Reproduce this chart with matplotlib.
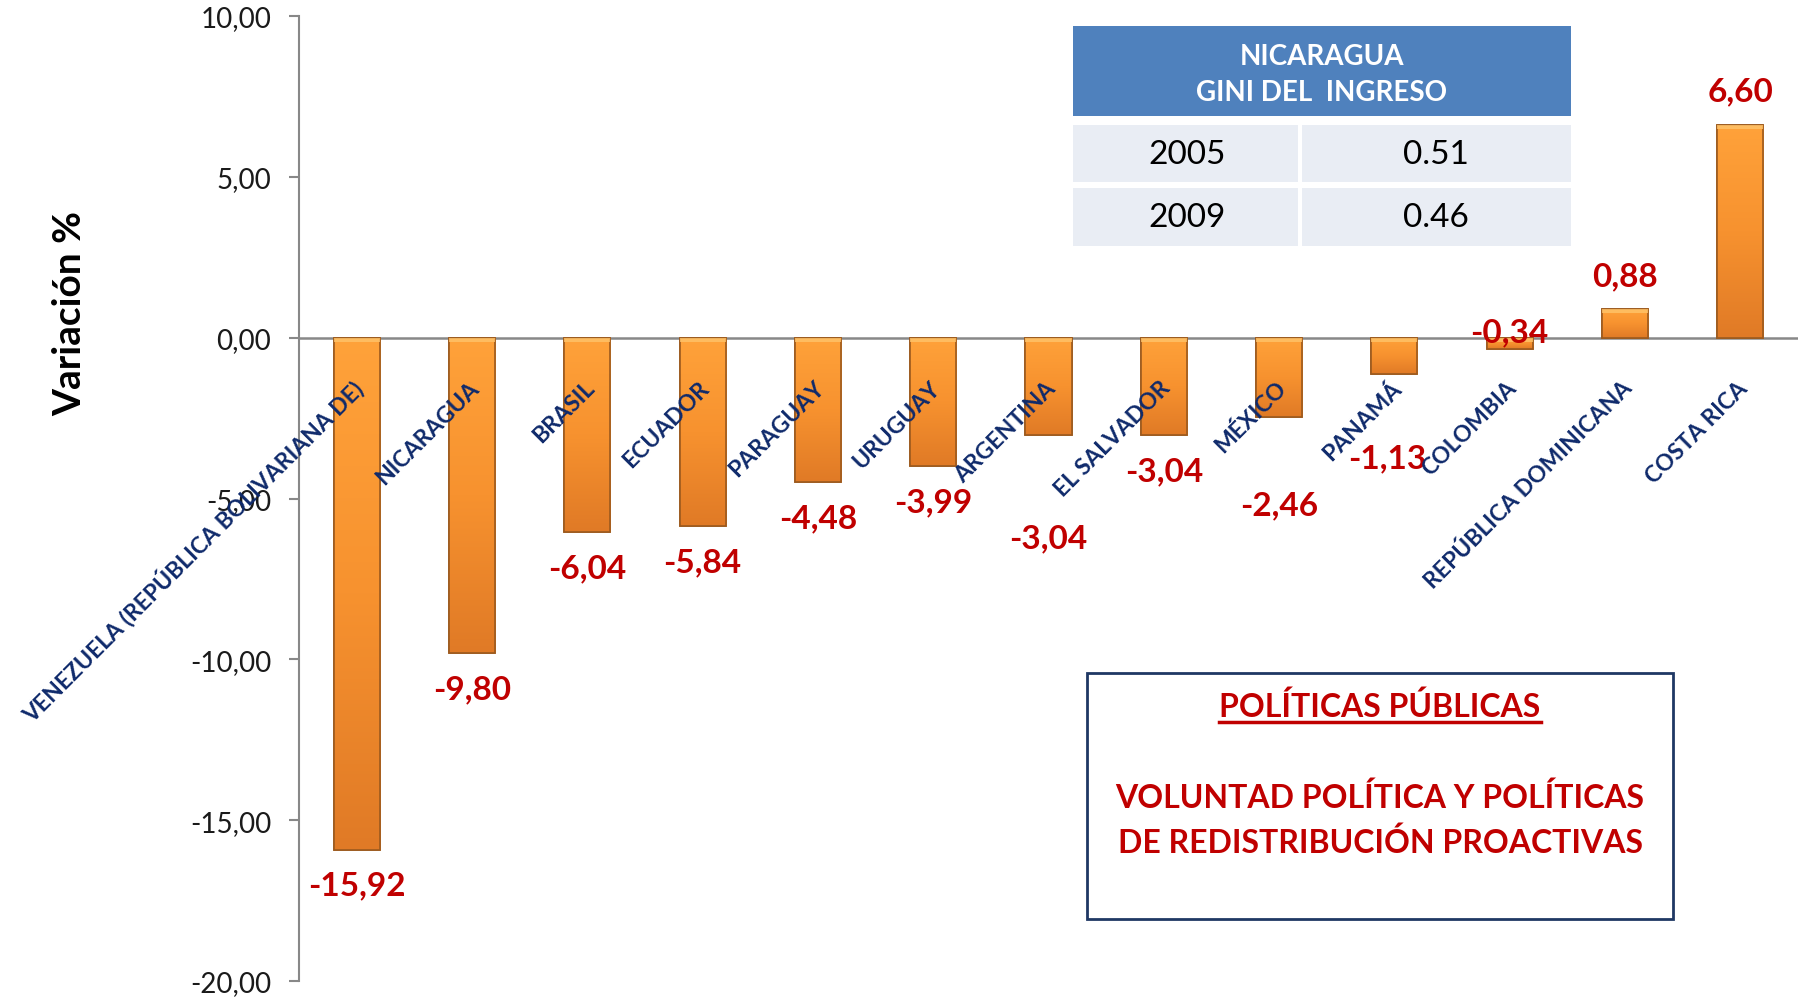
import matplotlib
matplotlib.use("Agg")
import matplotlib.pyplot as plt
import numpy as np
from matplotlib.patches import Rectangle
from matplotlib.colors import LinearSegmentedColormap

plt.rcParams['font.family'] = ['Lato', 'DejaVu Sans']

categories = ["VENEZUELA (REPÚBLICA BOLIVARIANA DE)", "NICARAGUA", "BRASIL", "ECUADOR",
              "PARAGUAY", "URUGUAY", "ARGENTINA", "EL SALVADOR", "MÉXICO", "PANAMÁ",
              "COLOMBIA", "REPÚBLICA DOMINICANA", "COSTA RICA"]
values = [-15.92, -9.80, -6.04, -5.84, -4.48, -3.99, -3.04, -3.04, -2.46, -1.13, -0.34, 0.88, 6.60]
value_labels = ["-15,92", "-9,80", "-6,04", "-5,84", "-4,48", "-3,99", "-3,04", "-3,04",
                "-2,46", "-1,13", "-0,34", "0,88", "6,60"]
# label offsets (layout) from the bar end, in data units
label_dy = [-1.10, -1.12, -1.13, -1.12, -1.12, -1.11, -3.17, -1.10, -2.75, -2.62, 0.52, 1.05, 1.07]
label_dx = [0, 0, 0, 0, 0, 0, 0, 0, 0, -0.06, 0, 0, 0]

yticks = [-20, -15, -10, -5, 0, 5, 10]
ytick_labels = ["-20,00", "-15,00", "-10,00", "-5,00", "0,00", "5,00", "10,00"]

table_title = "NICARAGUA\nGINI DEL  INGRESO"
table_years = ["2005", "2009"]
table_gini = ["0.51", "0.46"]

W, H = 1798, 1003
fig = plt.figure(figsize=(W / 100, H / 100), dpi=100)
ax = fig.add_axes([299 / W, 1 - 982 / H, 1 - 299 / W, (982 - 17) / H])

x = np.arange(len(categories))
bars = ax.bar(x, values, width=0.4, color='#F7922F', edgecolor='#9C5A1E', linewidth=1.2, zorder=3)

# vertical gradient inside bars
grad = np.linspace(0, 1, 256).reshape(-1, 1)
cmap = LinearSegmentedColormap.from_list('og', ['#FFA23A', '#F7922F', '#E07A26'])
for b in bars:
    x0, y0 = b.get_x(), b.get_y()
    w, h = b.get_width(), b.get_height()
    ylo, yhi = min(y0, y0 + h), max(y0, y0 + h)
    im = ax.imshow(grad, extent=[x0, x0 + w, ylo, yhi], origin='upper',
                   aspect='auto', cmap=cmap, zorder=3.5)
    im.set_clip_path(b)
    ax.add_patch(Rectangle((x0, ylo), w, yhi - ylo, fill=False, edgecolor='#9C5A1E',
                           linewidth=1.2, zorder=4))
    ax.add_patch(Rectangle((x0, yhi - 0.12), w, 0.12, facecolor='#FFC46A', edgecolor='none',
                           alpha=0.8, zorder=4))

ax.set_xlim(-0.5, len(categories) - 0.5)
ax.set_ylim(-20, 10)
ax.set_yticks(yticks)
ax.set_yticklabels(ytick_labels, fontsize=20, color='#1a1a1a')
ax.set_xticks([])
for s in ['top', 'right', 'bottom']:
    ax.spines[s].set_visible(False)
ax.spines['left'].set_color('#888888')
ax.spines['left'].set_linewidth(1.5)
ax.tick_params(axis='y', length=7, width=1.5, color='#888888', pad=13)
ax.axhline(0, color='#888888', linewidth=1.8, zorder=2)

# value labels
for i, (v, lab) in enumerate(zip(values, value_labels)):
    ax.text(i + label_dx[i], v + label_dy[i], lab, ha='center', va='center',
            fontsize=24, fontweight='bold', color='#C00000', zorder=6)

# category labels
for i, c in enumerate(categories):
    ax.text(i + 0.03, -1.45, c, rotation=45, rotation_mode='anchor', ha='right', va='center',
            fontsize=16.5, fontweight='bold', color='#0F2A6B', zorder=7)

fig.text(70 / W, 1 - 313 / H, "Variación %", rotation=90, ha='center', va='center',
         fontsize=28, fontweight='bold', color='black')

def fr(x0, y0, x1, y1, **kw):
    fig.add_artist(Rectangle((x0 / W, 1 - y1 / H), (x1 - x0) / W, (y1 - y0) / H,
                             transform=fig.transFigure, **kw))

# table
fr(1073, 27, 1571, 117, facecolor='#4F81BD', edgecolor='none')
fig.text((1073 + 1571) / 2 / W, 1 - 75 / H, table_title, ha='center', va='center',
         fontsize=20, fontweight='bold', color='white', linespacing=1.5)
rows_y = [(126, 183), (189, 247)]
for (y0, y1), yr, g in zip(rows_y, table_years, table_gini):
    fr(1073, y0, 1298, y1, facecolor='#E9EDF4', edgecolor='none')
    fr(1302, y0, 1571, y1, facecolor='#E9EDF4', edgecolor='none')
    fig.text(1187 / W, 1 - (y0 + y1) / 2 / H, yr, ha='center', va='center', fontsize=24, color='black')
    fig.text(1436 / W, 1 - (y0 + y1) / 2 / H, g, ha='center', va='center', fontsize=24, color='black')

# policy box
fr(1087, 674, 1673, 920, facecolor='white', edgecolor='#1F3864', linewidth=2)
cx = 1380 / W
t = fig.text(cx, 1 - 707 / H, "POLÍTICAS PÚBLICAS", ha='center', va='center',
             fontsize=23, fontweight='bold', color='#C00000')
fig.canvas.draw()
bb = t.get_window_extent()
fig.add_artist(plt.Line2D([bb.x0 / W, bb.x1 / W], [(bb.y0 - 1) / H, (bb.y0 - 1) / H],
                          transform=fig.transFigure, color='#C00000', linewidth=2.5))
fig.text(cx, 1 - 820 / H, "VOLUNTAD POLÍTICA Y POLÍTICAS\nDE REDISTRIBUCIÓN PROACTIVAS",
         ha='center', va='center', fontsize=23, fontweight='bold', color='#C00000',
         linespacing=1.55)

fig.savefig("out.png", dpi=100)
